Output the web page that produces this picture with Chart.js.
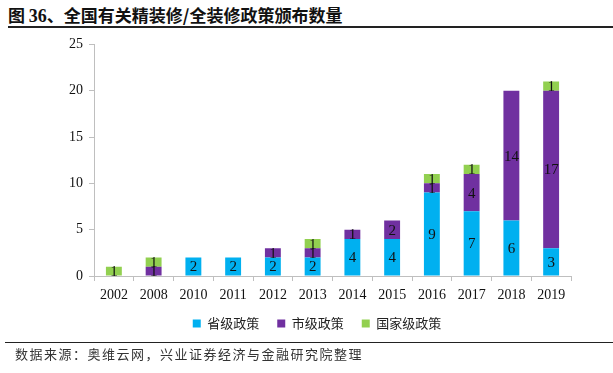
<!DOCTYPE html>
<html lang="zh">
<head>
  <meta charset="UTF-8">
  <title>全国有关精装修/全装修政策颁布数量</title>
  <script src="https://cdn.jsdelivr.net/npm/chart.js"></script>
  <style>
    body {
      margin: 0;
      width: 613px;
      height: 373px;
      background: #fff;
      font-family: 'Noto Sans CJK SC', sans-serif;
      position: relative;
      overflow: hidden;
    }
    .title {
      position: absolute;
      left: 8px;
      top: 4px;
      width: 605px;
      height: 22px;
      border-bottom: 2px solid #222;
      font-size: 17px;
      font-weight: bold;
      color: #111;
      line-height: 22px;
    }
    .title .num {
      font-family: 'Liberation Serif', serif;
      font-size: 18px;
    }
    .chart-box {
      position: absolute;
      left: 0;
      top: 30px;
      width: 613px;
      height: 317px;
    }
    .source {
      position: absolute;
      left: 5px;
      top: 342px;
      width: 608px;
      border-top: 1.5px solid #222;
      padding-left: 10px;
      font-size: 13px;
      letter-spacing: 1.5px;
      color: #333;
      line-height: 22px;
    }
  </style>
</head>
<body>

  <div class="title">图 <span class="num">36</span>、全国有关精装修/全装修政策颁布数量</div>
  <div class="chart-box">
    <canvas id="policyChart" width="613" height="317"></canvas>
  </div>
  <div class="source">数据来源：奥维云网，兴业证券经济与金融研究院整理</div>

  <script>
    const years = ['2002', '2008', '2010', '2011', '2012', '2013', '2014', '2015', '2016', '2017', '2018', '2019'];
    const provincial = [0, 0, 2, 2, 2, 2, 4, 4, 9, 7, 6, 3];
    const city = [0, 1, 0, 0, 1, 1, 1, 2, 1, 4, 14, 17];
    const national = [1, 1, 0, 0, 0, 1, 0, 0, 1, 1, 0, 1];
    const yTicks = [0, 5, 10, 15, 20, 25];

    // draw the number in the middle of each stacked segment
    const segmentLabels = {
      id: 'segmentLabels',
      afterDatasetsDraw(chart) {
        const c = chart.ctx;
        c.save();
        c.font = '15px "Liberation Serif", serif';
        c.fillStyle = '#111';
        c.textAlign = 'center';
        c.textBaseline = 'middle';
        chart.data.datasets.forEach((ds, i) => {
          const meta = chart.getDatasetMeta(i);
          meta.data.forEach((bar, j) => {
            const v = ds.data[j];
            if (!v) return;
            c.fillText(String(v), bar.x, (bar.y + bar.base) / 2 + 1);
          });
        });
        c.restore();
      }
    };

    const ctx = document.getElementById('policyChart').getContext('2d');
    new Chart(ctx, {
      type: 'bar',
      data: {
        labels: years,
        datasets: [
          { label: '省级政策', data: provincial, backgroundColor: '#00B0F0' },
          { label: '市级政策', data: city, backgroundColor: '#7030A0' },
          { label: '国家级政策', data: national, backgroundColor: '#92D050' }
        ]
      },
      options: {
        responsive: false,
        animation: false,
        layout: { padding: { left: 63, right: 42, top: 2, bottom: 7 } },
        datasets: {
          bar: { barPercentage: 0.8, categoryPercentage: 0.5, borderWidth: 0 }
        },
        scales: {
          x: {
            stacked: true,
            afterFit(scale) { scale.height = 23; },
            grid: {
              offset: true,
              drawOnChartArea: false,
              tickLength: 5,
              color: '#bfbfbf'
            },
            border: { color: '#bfbfbf' },
            ticks: {
              color: '#111',
              font: { family: 'Liberation Serif', size: 14 },
              maxRotation: 0,
              padding: 6
            }
          },
          y: {
            stacked: true,
            min: 0,
            max: 25,
            afterBuildTicks(axis) {
              axis.ticks = yTicks.map(v => ({ value: v }));
            },
            grid: {
              drawOnChartArea: false,
              tickLength: 5,
              color: '#bfbfbf'
            },
            border: { color: '#bfbfbf' },
            ticks: {
              color: '#111',
              font: { family: 'Liberation Serif', size: 14 },
              padding: 6
            }
          }
        },
        plugins: {
          legend: {
            position: 'bottom',
            labels: {
              boxWidth: 8,
              boxHeight: 8,
              padding: 18,
              color: '#222',
              font: { family: 'Noto Sans CJK SC', size: 13 }
            }
          },
          tooltip: { enabled: false }
        }
      },
      plugins: [segmentLabels]
    });
  </script>

</body>
</html>
